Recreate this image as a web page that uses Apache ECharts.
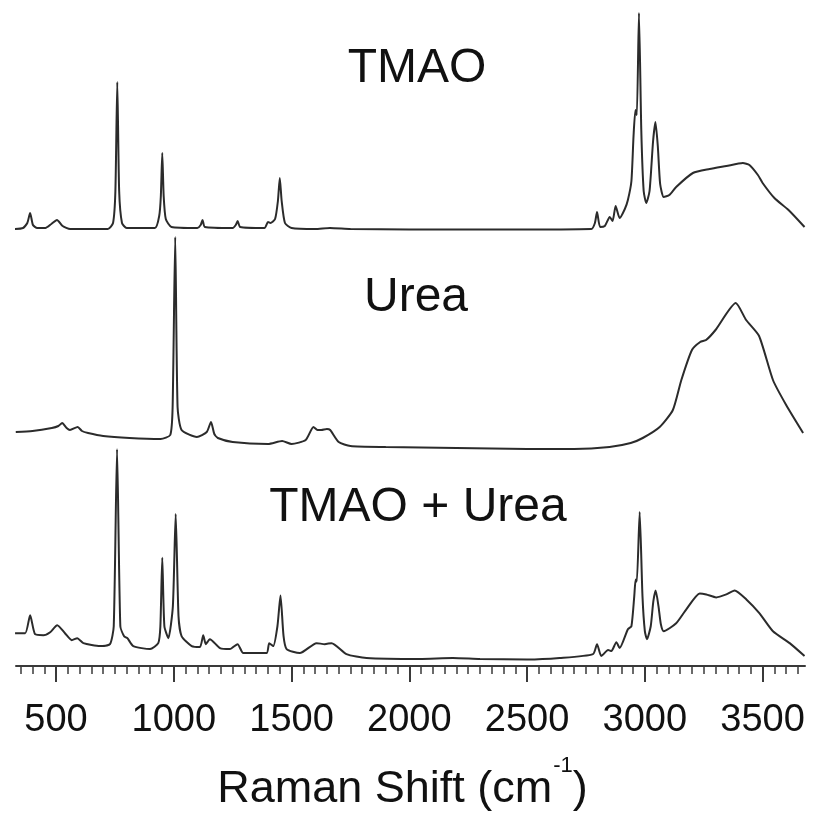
<!DOCTYPE html>
<html>
<head>
<meta charset="utf-8">
<script src="https://cdn.jsdelivr.net/npm/echarts@6/dist/echarts.min.js"></script>
<style>
  html, body { margin: 0; padding: 0; background: #fff; }
  #chart { width: 813px; height: 817px; }
</style>
</head>
<body>
<div id="chart"></div>
<script>
// Raman shift (cm-1) and intensity (arbitrary units)
var tmaoShift = [322, 360, 378, 390, 402, 420, 455, 480, 504, 528, 560, 720, 742, 752, 760, 768, 780, 800,
  920, 938, 945, 951, 957, 966, 990, 1100, 1114, 1122, 1132, 1250, 1263, 1271, 1282, 1385, 1400, 1410,
  1430, 1442, 1450, 1458, 1472, 1500, 1600, 1663, 1750, 2000, 2400, 2773, 2788, 2797, 2810, 2830, 2851,
  2863, 2876, 2893, 2915, 2928, 2943, 2952, 2960, 2966, 2975, 2985, 2995, 3006, 3020, 3035, 3045, 3055,
  3065, 3080, 3104, 3133, 3204, 3275, 3346, 3416, 3444, 3480, 3500, 3550, 3610, 3678];
var tmaoInt = [2, 3, 8, 18, 6, 3, 3, 7, 11, 5, 2, 2, 8, 40, 149, 40, 8, 3,
  3, 15, 35, 78, 35, 12, 4, 3, 6, 11, 4, 3, 6, 10, 4, 3, 9, 8,
  12, 30, 53, 30, 8, 3, 2, 3, 2, 1.5, 1.5, 2, 8, 19, 4, 5, 14,
  10, 25, 13, 22, 31, 50, 95, 121, 116, 218, 100, 40, 28, 40, 90, 109, 85,
  47, 34, 36, 44, 58, 62, 65, 68, 66, 56, 48, 33, 21, 4];

var ureaShift = [329, 400, 482, 510, 526, 545, 559, 592, 610, 636, 700, 812, 944, 985, 995, 1006, 1016,
  1033, 1098, 1140, 1158, 1172, 1187, 1250, 1400, 1460, 1500, 1560, 1593, 1610, 1626, 1650, 1664, 1700,
  1750, 1900, 2200, 2500, 2700, 2850, 2940, 2991, 3063, 3119, 3155, 3200, 3235, 3260, 3300, 3386, 3430,
  3485, 3544, 3600, 3672];
var ureaInt = [20, 21, 24, 26, 29, 24, 22, 25, 21, 19, 16, 14, 13, 17, 45, 215, 45,
  22, 15, 20, 30, 18, 14, 10, 8, 11, 8, 12, 25, 22, 22, 23, 22, 10,
  6, 5, 4, 3, 3, 5, 9, 14, 25, 42, 72, 102, 110, 112, 122, 149, 132,
  116, 72, 47, 19];

var mixShift = [326, 369, 390, 411, 446, 475, 505, 538, 567, 590, 616, 687, 729, 745, 759, 773, 789, 803,
  828, 899, 934, 943, 951, 960, 977, 996, 1008, 1020, 1033, 1076, 1111, 1125, 1136, 1153, 1196, 1238,
  1271, 1295, 1394, 1405, 1422, 1440, 1453, 1466, 1479, 1535, 1606, 1641, 1670, 1733, 1818, 2045, 2185,
  2300, 2500, 2638, 2780, 2797, 2815, 2844, 2858, 2879, 2893, 2928, 2943, 2955, 2961, 2966, 2978, 2990,
  3000, 3009, 3025, 3036, 3046, 3058, 3068, 3080, 3133, 3176, 3233, 3261, 3303, 3346, 3381, 3431, 3487,
  3544, 3615, 3678];
var mixInt = [33, 33, 51, 32, 31, 34, 41, 33, 26, 28, 23, 20, 22, 40, 218, 40, 30, 28,
  20, 17, 23, 40, 109, 40, 28, 60, 153, 50, 30, 20, 19, 31, 22, 27, 18, 17,
  22, 13, 13, 23, 20, 40, 71, 30, 17, 13, 23, 22, 23, 12, 8, 7, 8,
  7, 6.5, 8, 12, 22, 10, 16, 15, 24, 18, 37, 40, 70, 87, 85, 155, 70,
  35, 27, 40, 65, 76, 60, 42, 35, 43, 57, 73, 72, 69, 72, 76, 67, 53,
  35, 23, 10];

var labels = ['TMAO', 'Urea', 'TMAO + Urea'];
var majorTicks = [500, 1000, 1500, 2000, 2500, 3000, 3500];
var minorTicks = [];
for (var t = 350; t <= 3650; t += 50) minorTicks.push(t);

var xMin = 330, xMax = 3680;
var lineColor = '#2b2b2b';
var font = '"Liberation Sans", Arial, sans-serif';

function pairs(xs, ys) {
  return xs.map(function (x, i) { return [x, ys[i]]; });
}

var chart = echarts.init(document.getElementById('chart'));

var option = {
  animation: false,
  grid: [
    { left: 16, right: 8, top: 0, height: 231 },
    { left: 16, right: 8, top: 0, height: 452 },
    { left: 16, right: 8, top: 0, height: 670 }
  ],
  xAxis: [
    { gridIndex: 0, type: 'value', min: xMin, max: xMax, show: false },
    { gridIndex: 1, type: 'value', min: xMin, max: xMax, show: false },
    {
      gridIndex: 2, type: 'value', min: xMin, max: xMax, position: 'bottom',
      splitLine: { show: false },
      axisLine: { show: true, lineStyle: { color: '#3a3a3a', width: 2 } },
      axisTick: { show: true, customValues: majorTicks, length: 16, lineStyle: { color: '#3a3a3a', width: 2 } },
      axisLabel: {
        customValues: majorTicks, margin: 36, color: '#111', fontSize: 38, fontFamily: font,
        formatter: function (v) { return String(v); }
      },
      name: '{a|Raman Shift (cm}{b|-1}{a|)}',
      nameLocation: 'middle',
      nameGap: 80,
      nameTextStyle: {
        padding: [0, 16, 0, 0],
        rich: {
          a: { fontSize: 45, fontFamily: font, color: '#111', lineHeight: 66, verticalAlign: 'bottom' },
          b: { fontSize: 22, fontFamily: font, color: '#111', lineHeight: 24, verticalAlign: 'top', padding: [9, 0, 0, 1] }
        }
      }
    },
    {
      gridIndex: 2, type: 'value', min: xMin, max: xMax, position: 'bottom', offset: 0,
      splitLine: { show: false },
      axisLine: { show: false },
      axisTick: { show: true, customValues: minorTicks, length: 8, lineStyle: { color: '#3a3a3a', width: 1.5 } },
      axisLabel: { show: false }
    }
  ],
  yAxis: [
    { gridIndex: 0, type: 'value', min: 0, max: 231, show: false },
    { gridIndex: 1, type: 'value', min: 0, max: 452, show: false },
    { gridIndex: 2, type: 'value', min: 0, max: 670, show: false }
  ],
  graphic: [
    { type: 'text', x: 417, y: 69, style: { text: labels[0], font: '48px ' + font, fill: '#111', textAlign: 'center', textVerticalAlign: 'middle' } },
    { type: 'text', x: 416, y: 298, style: { text: labels[1], font: '48px ' + font, fill: '#111', textAlign: 'center', textVerticalAlign: 'middle' } },
    { type: 'text', x: 418, y: 508, style: { text: labels[2], font: '48px ' + font, fill: '#111', textAlign: 'center', textVerticalAlign: 'middle' } }
  ],
  series: [
    { type: 'line', xAxisIndex: 0, yAxisIndex: 0, data: pairs(tmaoShift, tmaoInt), showSymbol: false, smooth: 0.2, lineStyle: { color: lineColor, width: 2 } },
    { type: 'line', xAxisIndex: 1, yAxisIndex: 1, data: pairs(ureaShift, ureaInt), showSymbol: false, smooth: 0.2, lineStyle: { color: lineColor, width: 2 } },
    { type: 'line', xAxisIndex: 2, yAxisIndex: 2, data: pairs(mixShift, mixInt), showSymbol: false, smooth: 0.2, lineStyle: { color: lineColor, width: 2 } }
  ]
};

chart.setOption(option);
</script>
</body>
</html>
